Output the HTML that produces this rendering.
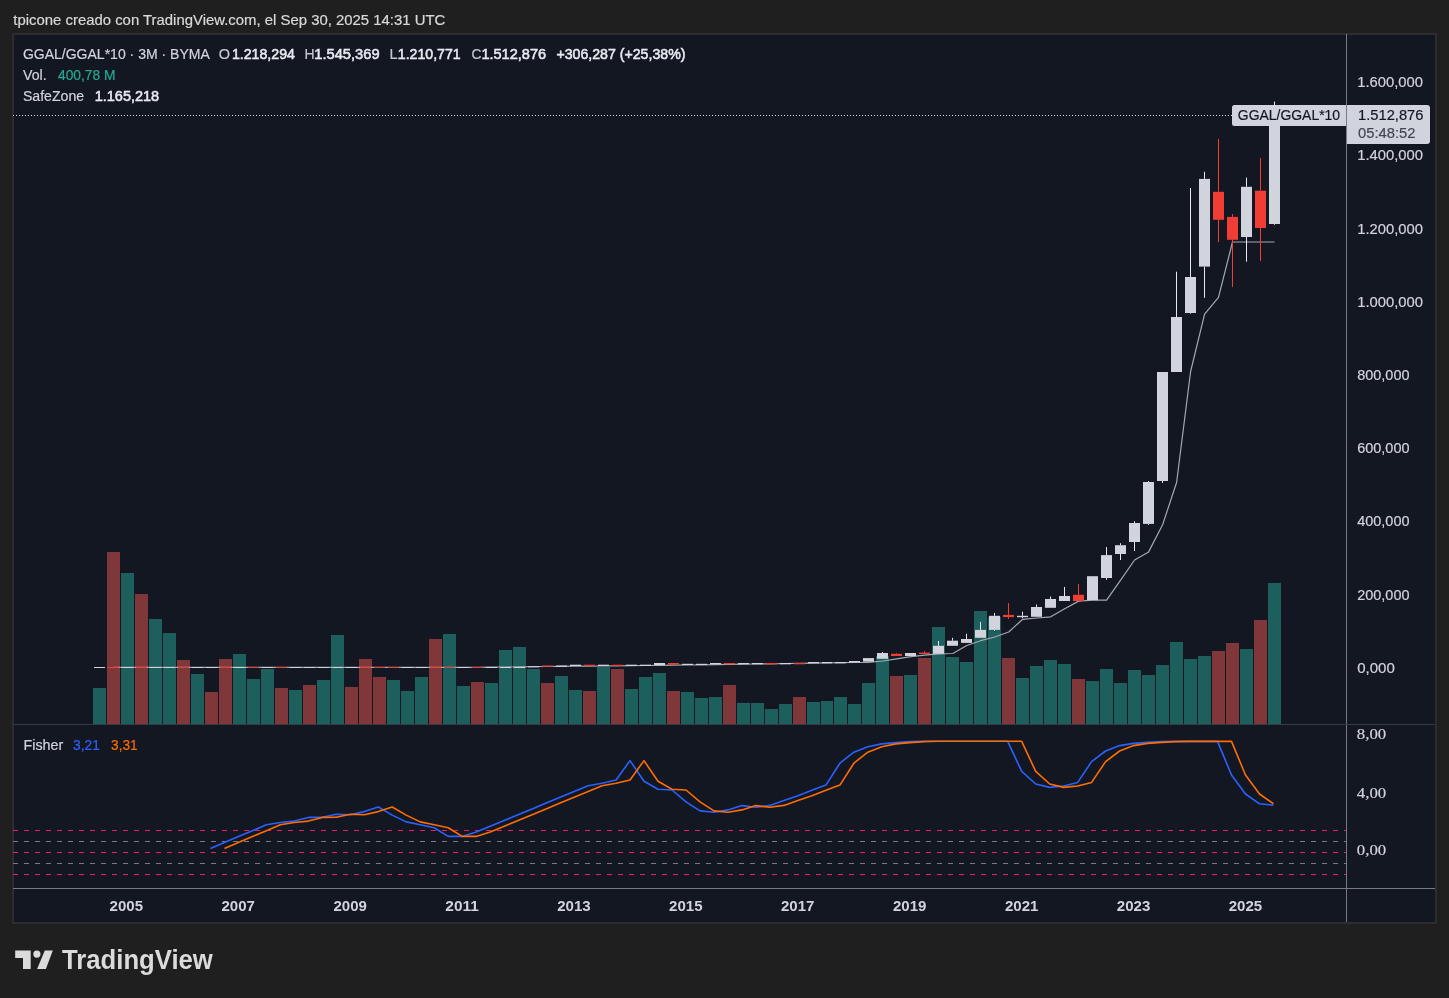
<!DOCTYPE html>
<html><head><meta charset="utf-8"><style>
html,body{margin:0;padding:0;background:#1f1f1f;width:1449px;height:998px;overflow:hidden}
svg{position:absolute;left:0;top:0;font-family:"Liberation Sans",sans-serif;will-change:transform}
</style></head><body>
<svg width="1449" height="998" viewBox="0 0 1449 998">
<rect x="0" y="0" width="1449" height="998" fill="#1f1f1f"/>
<text x="13.3" y="24.9" font-size="15" stroke="#d9d9d9" stroke-width="0.2" fill="#d9d9d9" textLength="432" lengthAdjust="spacingAndGlyphs">tpicone creado con TradingView.com, el Sep 30, 2025 14:31 UTC</text>
<rect x="12" y="33" width="1425" height="891" fill="#2d2d2f"/>
<rect x="14" y="35" width="1421" height="887" fill="#131722"/>
<clipPath id="mainclip"><rect x="13" y="34" width="1333" height="690"/></clipPath>
<clipPath id="fishclip"><rect x="13" y="725" width="1333" height="163"/></clipPath>
<g clip-path="url(#mainclip)">
<line x1="13" y1="115.5" x2="1232" y2="115.5" stroke="#d1d4dc" stroke-width="1" stroke-dasharray="1 2"/>
<rect x="93" y="688" width="13" height="36" fill="#1d5f5c"/>
<rect x="107" y="552" width="13" height="172" fill="#80373a"/>
<rect x="121" y="573" width="13" height="151" fill="#1d5f5c"/>
<rect x="135" y="594" width="13" height="130" fill="#80373a"/>
<rect x="149" y="619" width="13" height="105" fill="#1d5f5c"/>
<rect x="163" y="633" width="13" height="91" fill="#1d5f5c"/>
<rect x="177" y="660" width="13" height="64" fill="#80373a"/>
<rect x="191" y="674" width="13" height="50" fill="#1d5f5c"/>
<rect x="205" y="692" width="13" height="32" fill="#80373a"/>
<rect x="219" y="659" width="13" height="65" fill="#80373a"/>
<rect x="233" y="654" width="13" height="70" fill="#1d5f5c"/>
<rect x="247" y="679" width="13" height="45" fill="#1d5f5c"/>
<rect x="261" y="669" width="13" height="55" fill="#1d5f5c"/>
<rect x="275" y="688" width="13" height="36" fill="#80373a"/>
<rect x="289" y="690" width="13" height="34" fill="#1d5f5c"/>
<rect x="303" y="685" width="13" height="39" fill="#80373a"/>
<rect x="317" y="680" width="13" height="44" fill="#1d5f5c"/>
<rect x="331" y="635" width="13" height="89" fill="#1d5f5c"/>
<rect x="345" y="687" width="13" height="37" fill="#80373a"/>
<rect x="359" y="659" width="13" height="65" fill="#80373a"/>
<rect x="373" y="677" width="13" height="47" fill="#80373a"/>
<rect x="387" y="680" width="13" height="44" fill="#1d5f5c"/>
<rect x="401" y="691" width="13" height="33" fill="#1d5f5c"/>
<rect x="415" y="677" width="13" height="47" fill="#1d5f5c"/>
<rect x="429" y="639" width="13" height="85" fill="#80373a"/>
<rect x="443" y="634" width="13" height="90" fill="#1d5f5c"/>
<rect x="457" y="686" width="13" height="38" fill="#1d5f5c"/>
<rect x="471" y="682" width="13" height="42" fill="#80373a"/>
<rect x="485" y="683" width="13" height="41" fill="#1d5f5c"/>
<rect x="499" y="650" width="13" height="74" fill="#1d5f5c"/>
<rect x="513" y="647" width="13" height="77" fill="#1d5f5c"/>
<rect x="527" y="669" width="13" height="55" fill="#1d5f5c"/>
<rect x="541" y="683" width="13" height="41" fill="#80373a"/>
<rect x="555" y="676" width="13" height="48" fill="#1d5f5c"/>
<rect x="569" y="690" width="13" height="34" fill="#1d5f5c"/>
<rect x="583" y="691" width="13" height="33" fill="#80373a"/>
<rect x="597" y="667" width="13" height="57" fill="#1d5f5c"/>
<rect x="611" y="669" width="13" height="55" fill="#80373a"/>
<rect x="625" y="689" width="13" height="35" fill="#1d5f5c"/>
<rect x="639" y="677" width="13" height="47" fill="#1d5f5c"/>
<rect x="653" y="673" width="13" height="51" fill="#1d5f5c"/>
<rect x="667" y="691" width="13" height="33" fill="#80373a"/>
<rect x="681" y="692" width="13" height="32" fill="#1d5f5c"/>
<rect x="695" y="698" width="13" height="26" fill="#1d5f5c"/>
<rect x="709" y="697" width="13" height="27" fill="#1d5f5c"/>
<rect x="723" y="685" width="13" height="39" fill="#80373a"/>
<rect x="737" y="703" width="13" height="21" fill="#1d5f5c"/>
<rect x="751" y="703" width="13" height="21" fill="#1d5f5c"/>
<rect x="765" y="709" width="13" height="15" fill="#1d5f5c"/>
<rect x="779" y="704" width="13" height="20" fill="#1d5f5c"/>
<rect x="793" y="697" width="13" height="27" fill="#80373a"/>
<rect x="807" y="702" width="13" height="22" fill="#1d5f5c"/>
<rect x="821" y="701" width="12" height="23" fill="#1d5f5c"/>
<rect x="834" y="697" width="13" height="27" fill="#1d5f5c"/>
<rect x="848" y="704" width="13" height="20" fill="#1d5f5c"/>
<rect x="862" y="683" width="13" height="41" fill="#1d5f5c"/>
<rect x="876" y="656" width="13" height="68" fill="#1d5f5c"/>
<rect x="890" y="676" width="13" height="48" fill="#80373a"/>
<rect x="904" y="675" width="13" height="49" fill="#1d5f5c"/>
<rect x="918" y="658" width="13" height="66" fill="#80373a"/>
<rect x="932" y="627" width="13" height="97" fill="#1d5f5c"/>
<rect x="946" y="657" width="13" height="67" fill="#1d5f5c"/>
<rect x="960" y="662" width="13" height="62" fill="#1d5f5c"/>
<rect x="974" y="611" width="13" height="113" fill="#1d5f5c"/>
<rect x="988" y="617" width="13" height="107" fill="#1d5f5c"/>
<rect x="1002" y="658" width="13" height="66" fill="#80373a"/>
<rect x="1016" y="678" width="13" height="46" fill="#1d5f5c"/>
<rect x="1030" y="666" width="13" height="58" fill="#1d5f5c"/>
<rect x="1044" y="660" width="13" height="64" fill="#1d5f5c"/>
<rect x="1058" y="664" width="13" height="60" fill="#1d5f5c"/>
<rect x="1072" y="679" width="13" height="45" fill="#80373a"/>
<rect x="1086" y="681" width="13" height="43" fill="#1d5f5c"/>
<rect x="1100" y="669" width="13" height="55" fill="#1d5f5c"/>
<rect x="1114" y="683" width="13" height="41" fill="#1d5f5c"/>
<rect x="1128" y="670" width="13" height="54" fill="#1d5f5c"/>
<rect x="1142" y="675" width="13" height="49" fill="#1d5f5c"/>
<rect x="1156" y="665" width="13" height="59" fill="#1d5f5c"/>
<rect x="1170" y="642" width="13" height="82" fill="#1d5f5c"/>
<rect x="1184" y="659" width="13" height="65" fill="#1d5f5c"/>
<rect x="1198" y="656" width="13" height="68" fill="#1d5f5c"/>
<rect x="1212" y="651" width="13" height="73" fill="#80373a"/>
<rect x="1226" y="643" width="13" height="81" fill="#80373a"/>
<rect x="1240" y="649" width="13" height="75" fill="#1d5f5c"/>
<rect x="1254" y="620" width="13" height="104" fill="#80373a"/>
<rect x="1268" y="583" width="13" height="141" fill="#1d5f5c"/>
<polyline points="113.5,667.4 127.5,667.4 141.5,667.4 155.5,667.4 169.4,667.4 183.4,667.4 197.4,667.4 211.4,667.4 225.4,667.4 239.4,667.4 253.4,667.4 267.4,667.4 281.3,667.4 295.3,667.4 309.3,667.4 323.3,667.4 337.3,667.4 351.3,667.4 365.3,667.4 379.3,667.4 393.2,667.4 407.2,667.4 421.2,667.4 435.2,667.4 449.2,667.4 463.2,667.4 477.2,667.3 491.2,667.1 505.2,667.0 519.1,666.9 533.1,666.7 547.1,666.5 561.1,666.4 575.1,666.2 589.1,666.1 603.1,666.0 617.1,665.8 631.0,665.6 645.0,665.5 659.0,665.4 673.0,665.2 687.0,665.0 701.0,664.8 715.0,664.6 729.0,664.4 742.9,664.2 756.9,664.0 770.9,663.8 784.9,663.5 798.9,663.3 812.9,663.1 826.9,662.9 840.9,662.7 854.9,662.5 868.8,662.3 882.8,661.0 896.8,658.8 910.8,656.7 924.8,655.2 938.8,653.8 952.8,653.5 966.8,645.5 980.7,640.7 994.7,637.0 1008.7,632.0 1022.7,619.3 1036.7,618.0 1050.7,616.8 1064.7,608.7 1078.7,601.1 1092.6,600.2 1106.6,600.2 1120.6,580.1 1134.6,560.0 1148.6,551.9 1162.6,524.8 1176.6,482.5 1190.6,371.5 1204.6,314.2 1218.5,297.4 1232.5,242.0 1246.5,242.0 1260.5,242.0 1274.5,242.0" fill="none" stroke="#a5a8b0" stroke-width="1.2" stroke-linejoin="round"/>
<rect x="94" y="667.0" width="11" height="1.0" fill="#d1d4dc"/>
<rect x="108" y="667.0" width="11" height="1.0" fill="#f23d35"/>
<rect x="122" y="667.0" width="11" height="1.0" fill="#d1d4dc"/>
<rect x="136" y="667.0" width="11" height="1.0" fill="#f23d35"/>
<rect x="150" y="667.0" width="11" height="1.0" fill="#d1d4dc"/>
<rect x="164" y="667.0" width="11" height="1.0" fill="#d1d4dc"/>
<rect x="178" y="667.0" width="11" height="1.0" fill="#f23d35"/>
<rect x="192" y="667.0" width="11" height="1.0" fill="#d1d4dc"/>
<rect x="206" y="667.0" width="11" height="1.0" fill="#d1d4dc"/>
<rect x="220" y="667.0" width="11" height="1.0" fill="#f23d35"/>
<rect x="234" y="667.0" width="11" height="1.0" fill="#d1d4dc"/>
<rect x="248" y="667.0" width="11" height="1.0" fill="#f23d35"/>
<rect x="262" y="667.0" width="11" height="1.0" fill="#d1d4dc"/>
<rect x="276" y="667.0" width="11" height="1.0" fill="#f23d35"/>
<rect x="290" y="667.0" width="11" height="1.0" fill="#d1d4dc"/>
<rect x="304" y="667.0" width="11" height="1.0" fill="#d1d4dc"/>
<rect x="318" y="667.0" width="11" height="1.0" fill="#d1d4dc"/>
<rect x="332" y="667.0" width="11" height="1.0" fill="#d1d4dc"/>
<rect x="346" y="667.0" width="11" height="1.0" fill="#d1d4dc"/>
<rect x="360" y="667.0" width="11" height="1.0" fill="#f23d35"/>
<rect x="374" y="667.0" width="11" height="1.0" fill="#f23d35"/>
<rect x="388" y="667.0" width="11" height="1.0" fill="#f23d35"/>
<rect x="402" y="667.0" width="11" height="1.0" fill="#d1d4dc"/>
<rect x="416" y="667.0" width="11" height="1.0" fill="#d1d4dc"/>
<rect x="430" y="667.0" width="11" height="1.0" fill="#f23d35"/>
<rect x="444" y="667.0" width="11" height="1.0" fill="#f23d35"/>
<rect x="458" y="667.0" width="11" height="1.0" fill="#d1d4dc"/>
<rect x="472" y="667.0" width="11" height="1.0" fill="#f23d35"/>
<rect x="486" y="667.0" width="11" height="1.0" fill="#d1d4dc"/>
<rect x="500" y="667.0" width="11" height="1.0" fill="#d1d4dc"/>
<rect x="514" y="667.0" width="11" height="1.0" fill="#d1d4dc"/>
<rect x="528" y="666.3" width="11" height="1.0" fill="#d1d4dc"/>
<rect x="542" y="665.5" width="11" height="1.3" fill="#f23d35"/>
<rect x="556" y="665.5" width="11" height="1.3" fill="#d1d4dc"/>
<rect x="570" y="664.7" width="11" height="1.3" fill="#d1d4dc"/>
<rect x="584" y="664.7" width="11" height="1.3" fill="#f23d35"/>
<rect x="598" y="664.7" width="11" height="1.3" fill="#d1d4dc"/>
<rect x="612" y="664.7" width="11" height="1.3" fill="#f23d35"/>
<rect x="626" y="664.7" width="11" height="1.3" fill="#d1d4dc"/>
<rect x="640" y="664.7" width="11" height="1.3" fill="#d1d4dc"/>
<rect x="654" y="663.0" width="11" height="2.2" fill="#d1d4dc"/>
<rect x="668" y="663.0" width="11" height="1.6" fill="#f23d35"/>
<rect x="682" y="663.8" width="11" height="1.2" fill="#d1d4dc"/>
<rect x="696" y="663.8" width="11" height="1.2" fill="#d1d4dc"/>
<rect x="710" y="663.0" width="11" height="1.3" fill="#d1d4dc"/>
<rect x="724" y="663.0" width="11" height="1.3" fill="#f23d35"/>
<rect x="738" y="663.0" width="11" height="1.3" fill="#d1d4dc"/>
<rect x="752" y="663.0" width="11" height="1.3" fill="#d1d4dc"/>
<rect x="766" y="663.0" width="11" height="1.3" fill="#f23d35"/>
<rect x="780" y="663.0" width="11" height="1.3" fill="#d1d4dc"/>
<rect x="794" y="663.0" width="11" height="1.3" fill="#f23d35"/>
<rect x="808" y="662.0" width="11" height="1.3" fill="#d1d4dc"/>
<rect x="822" y="662.0" width="10" height="1.3" fill="#d1d4dc"/>
<rect x="835" y="662.0" width="11" height="1.3" fill="#d1d4dc"/>
<rect x="849" y="661.0" width="11" height="1.5" fill="#d1d4dc"/>
<rect x="863" y="658.1" width="11" height="3.6" fill="#d1d4dc"/>
<rect x="882" y="652.0" width="1" height="1.0" fill="#e6e8ee"/>
<rect x="877" y="653.0" width="11" height="5.8" fill="#d1d4dc"/>
<rect x="896" y="653.0" width="1" height="0.8" fill="#f23d35"/>
<rect x="891" y="653.8" width="11" height="2.2" fill="#f23d35"/>
<rect x="905" y="653.0" width="11" height="3.0" fill="#d1d4dc"/>
<rect x="924" y="650.9" width="1" height="1.7" fill="#f23d35"/>
<rect x="919" y="652.6" width="11" height="1.4" fill="#f23d35"/>
<rect x="938" y="641.0" width="1" height="4.8" fill="#e6e8ee"/>
<rect x="933" y="645.8" width="11" height="8.0" fill="#d1d4dc"/>
<rect x="952" y="637.8" width="1" height="2.9" fill="#e6e8ee"/>
<rect x="947" y="640.7" width="11" height="5.1" fill="#d1d4dc"/>
<rect x="966" y="633.8" width="1" height="5.2" fill="#e6e8ee"/>
<rect x="961" y="639.0" width="11" height="3.9" fill="#d1d4dc"/>
<rect x="980" y="621.9" width="1" height="8.0" fill="#e6e8ee"/>
<rect x="975" y="629.9" width="11" height="7.9" fill="#d1d4dc"/>
<rect x="994" y="612.9" width="1" height="2.9" fill="#e6e8ee"/>
<rect x="994" y="629.9" width="1" height="1.1" fill="#e6e8ee"/>
<rect x="989" y="615.8" width="11" height="14.1" fill="#d1d4dc"/>
<rect x="1008" y="603.0" width="1" height="11.9" fill="#f23d35"/>
<rect x="1008" y="617.1" width="1" height="1.9" fill="#f23d35"/>
<rect x="1003" y="614.9" width="11" height="2.2" fill="#f23d35"/>
<rect x="1022" y="611.7" width="1" height="4.1" fill="#e6e8ee"/>
<rect x="1022" y="617.2" width="1" height="1.1" fill="#e6e8ee"/>
<rect x="1017" y="615.8" width="11" height="1.4" fill="#d1d4dc"/>
<rect x="1036" y="604.5" width="1" height="2.5" fill="#e6e8ee"/>
<rect x="1031" y="607.0" width="11" height="9.8" fill="#d1d4dc"/>
<rect x="1050" y="596.5" width="1" height="2.5" fill="#e6e8ee"/>
<rect x="1045" y="599.0" width="11" height="8.8" fill="#d1d4dc"/>
<rect x="1064" y="587.0" width="1" height="9.0" fill="#e6e8ee"/>
<rect x="1059" y="596.0" width="11" height="5.0" fill="#d1d4dc"/>
<rect x="1078" y="584.0" width="1" height="10.8" fill="#f23d35"/>
<rect x="1073" y="594.8" width="11" height="6.2" fill="#f23d35"/>
<rect x="1087" y="576.2" width="11" height="24.0" fill="#d1d4dc"/>
<rect x="1106" y="547.0" width="1" height="8.1" fill="#e6e8ee"/>
<rect x="1106" y="578.0" width="1" height="1.8" fill="#e6e8ee"/>
<rect x="1101" y="555.1" width="11" height="22.9" fill="#d1d4dc"/>
<rect x="1120" y="543.2" width="1" height="2.0" fill="#e6e8ee"/>
<rect x="1120" y="554.0" width="1" height="6.0" fill="#e6e8ee"/>
<rect x="1115" y="545.2" width="11" height="8.8" fill="#d1d4dc"/>
<rect x="1134" y="521.2" width="1" height="1.8" fill="#e6e8ee"/>
<rect x="1134" y="542.0" width="1" height="9.0" fill="#e6e8ee"/>
<rect x="1129" y="523.0" width="11" height="19.0" fill="#d1d4dc"/>
<rect x="1148" y="481.1" width="1" height="0.9" fill="#e6e8ee"/>
<rect x="1148" y="523.9" width="1" height="0.9" fill="#e6e8ee"/>
<rect x="1143" y="482.0" width="11" height="41.9" fill="#d1d4dc"/>
<rect x="1162" y="481.0" width="1" height="2.0" fill="#e6e8ee"/>
<rect x="1157" y="372.0" width="11" height="109.0" fill="#d1d4dc"/>
<rect x="1176" y="271.7" width="1" height="45.3" fill="#e6e8ee"/>
<rect x="1171" y="317.0" width="11" height="55.0" fill="#d1d4dc"/>
<rect x="1190" y="188.0" width="1" height="89.0" fill="#e6e8ee"/>
<rect x="1190" y="313.0" width="1" height="0.7" fill="#e6e8ee"/>
<rect x="1185" y="277.0" width="11" height="36.0" fill="#d1d4dc"/>
<rect x="1204" y="171.8" width="1" height="7.1" fill="#e6e8ee"/>
<rect x="1204" y="266.6" width="1" height="31.2" fill="#e6e8ee"/>
<rect x="1199" y="178.9" width="11" height="87.7" fill="#d1d4dc"/>
<rect x="1218" y="138.9" width="1" height="52.9" fill="#f23d35"/>
<rect x="1218" y="219.8" width="1" height="22.2" fill="#f23d35"/>
<rect x="1213" y="191.8" width="11" height="28.0" fill="#f23d35"/>
<rect x="1232" y="214.0" width="1" height="2.9" fill="#f23d35"/>
<rect x="1232" y="239.8" width="1" height="47.2" fill="#f23d35"/>
<rect x="1227" y="216.9" width="11" height="22.9" fill="#f23d35"/>
<rect x="1246" y="177.6" width="1" height="9.2" fill="#e6e8ee"/>
<rect x="1246" y="237.0" width="1" height="24.7" fill="#e6e8ee"/>
<rect x="1241" y="186.8" width="11" height="50.2" fill="#d1d4dc"/>
<rect x="1260" y="158.0" width="1" height="32.7" fill="#f23d35"/>
<rect x="1260" y="228.0" width="1" height="33.0" fill="#f23d35"/>
<rect x="1255" y="190.7" width="11" height="37.3" fill="#f23d35"/>
<rect x="1274" y="101.6" width="1" height="11.9" fill="#e6e8ee"/>
<rect x="1274" y="224.0" width="1" height="0.8" fill="#e6e8ee"/>
<rect x="1269" y="113.5" width="11" height="110.5" fill="#d1d4dc"/>
</g>
<g clip-path="url(#fishclip)">
<line x1="13" y1="830.5" x2="1346" y2="830.5" stroke="#e91e63" stroke-width="1" stroke-dasharray="5 6"/>
<line x1="13" y1="841.5" x2="1346" y2="841.5" stroke="#787b86" stroke-width="1" stroke-dasharray="5 6"/>
<line x1="13" y1="852.5" x2="1346" y2="852.5" stroke="#e91e63" stroke-width="1" stroke-dasharray="5 6"/>
<line x1="13" y1="863.5" x2="1346" y2="863.5" stroke="#787b86" stroke-width="1" stroke-dasharray="5 6"/>
<line x1="13" y1="874.5" x2="1346" y2="874.5" stroke="#e91e63" stroke-width="1" stroke-dasharray="5 6"/>

<polyline points="210.4,848.4 224.4,842.5 238.4,836.6 252.4,830.7 266.4,824.8 280.3,822.5 294.3,821.1 308.3,817.4 322.3,817.2 336.3,814.3 350.3,814.7 364.3,811.6 378.3,807.0 392.2,815.1 406.2,821.9 420.2,824.8 434.2,827.7 448.2,836.4 462.2,836.4 476.2,832.1 490.2,826.3 504.2,820.5 518.1,814.7 532.1,808.9 546.1,803.1 560.1,797.3 574.1,791.5 588.1,785.7 602.1,783.2 616.1,780.0 630.0,760.6 644.0,781.3 658.0,789.2 672.0,790.0 686.0,801.8 700.0,810.9 714.0,812.2 728.0,809.9 741.9,805.6 755.9,807.3 769.9,805.4 783.9,800.5 797.9,795.7 811.9,790.3 825.9,785.1 839.9,763.2 853.9,752.2 867.8,746.8 881.8,743.9 895.8,742.6 909.8,741.6 923.8,741.3 937.8,741.3 951.8,741.3 965.8,741.3 979.7,741.3 993.7,741.3 1007.7,741.3 1021.7,771.4 1035.7,784.0 1049.7,787.4 1063.7,786.0 1077.7,782.4 1091.6,761.6 1105.6,751.0 1119.6,745.6 1133.6,743.4 1147.6,742.4 1161.6,741.6 1175.6,741.4 1189.6,741.4 1203.6,741.4 1217.5,741.4 1231.5,775.0 1245.5,794.0 1259.5,803.8 1273.5,805.2" fill="none" stroke="#2962ff" stroke-width="1.6" stroke-linejoin="round"/>
<polyline points="224.4,848.4 238.4,842.5 252.4,836.6 266.4,830.7 280.3,824.8 294.3,822.5 308.3,821.1 322.3,817.4 336.3,817.2 350.3,814.3 364.3,814.7 378.3,811.6 392.2,807.0 406.2,815.1 420.2,821.9 434.2,824.8 448.2,827.7 462.2,836.4 476.2,836.4 490.2,832.1 504.2,826.3 518.1,820.5 532.1,814.7 546.1,808.9 560.1,803.1 574.1,797.3 588.1,791.5 602.1,785.7 616.1,783.2 630.0,780.0 644.0,760.6 658.0,781.3 672.0,789.2 686.0,790.0 700.0,801.8 714.0,810.9 728.0,812.2 741.9,809.9 755.9,805.6 769.9,807.3 783.9,805.4 797.9,800.5 811.9,795.7 825.9,790.3 839.9,785.1 853.9,763.2 867.8,752.2 881.8,746.8 895.8,743.9 909.8,742.6 923.8,741.6 937.8,741.3 951.8,741.3 965.8,741.3 979.7,741.3 993.7,741.3 1007.7,741.3 1021.7,741.3 1035.7,771.4 1049.7,784.0 1063.7,787.4 1077.7,786.0 1091.6,782.4 1105.6,761.6 1119.6,751.0 1133.6,745.6 1147.6,743.4 1161.6,742.4 1175.6,741.6 1189.6,741.4 1203.6,741.4 1217.5,741.4 1231.5,741.4 1245.5,775.0 1259.5,794.0 1273.5,803.8" fill="none" stroke="#ff6d00" stroke-width="1.6" stroke-linejoin="round"/>
</g>
<rect x="1346" y="34" width="1" height="888" fill="#787b86"/>
<rect x="13" y="724" width="1422" height="1" fill="#363a45"/>
<rect x="13" y="888" width="1422" height="1" fill="#787b86"/>
<text x="22.9" y="58.9" font-size="15" stroke="#d1d4dc" stroke-width="0.2" fill="#d1d4dc" textLength="186.9" lengthAdjust="spacingAndGlyphs">GGAL/GGAL*10 · 3M · BYMA</text>
<text x="218.7" y="58.9" font-size="14.5" stroke="#c3c6ce" stroke-width="0.2" fill="#c3c6ce">O</text>
<text x="231.9" y="58.9" font-size="14.6" stroke="#e8eaf0" stroke-width="0.55" fill="#e8eaf0" textLength="63" lengthAdjust="spacingAndGlyphs">1.218,294</text>
<text x="304.4" y="58.9" font-size="14" stroke="#c3c6ce" stroke-width="0.2" fill="#c3c6ce">H</text>
<text x="314.3" y="58.9" font-size="14.6" stroke="#e8eaf0" stroke-width="0.55" fill="#e8eaf0" textLength="65.3" lengthAdjust="spacingAndGlyphs">1.545,369</text>
<text x="389.5" y="58.9" font-size="14.5" stroke="#c3c6ce" stroke-width="0.2" fill="#c3c6ce">L</text>
<text x="397.8" y="58.9" font-size="14.6" stroke="#e8eaf0" stroke-width="0.55" fill="#e8eaf0" textLength="62.9" lengthAdjust="spacingAndGlyphs">1.210,771</text>
<text x="471.4" y="58.9" font-size="13.8" stroke="#c3c6ce" stroke-width="0.2" fill="#c3c6ce">C</text>
<text x="481.4" y="58.9" font-size="14.6" stroke="#e8eaf0" stroke-width="0.55" fill="#e8eaf0" textLength="64.7" lengthAdjust="spacingAndGlyphs">1.512,876</text>
<text x="556.4" y="58.9" font-size="14.6" stroke="#e8eaf0" stroke-width="0.55" fill="#e8eaf0" textLength="129.1" lengthAdjust="spacingAndGlyphs">+306,287 (+25,38%)</text>
<text x="23" y="79.8" font-size="15" stroke="#d1d4dc" stroke-width="0.2" fill="#d1d4dc" textLength="23.6" lengthAdjust="spacingAndGlyphs">Vol.</text>
<text x="58" y="79.8" font-size="14.6" stroke="#22ab94" stroke-width="0.2" fill="#22ab94" textLength="57.5" lengthAdjust="spacingAndGlyphs">400,78 M</text>
<text x="22.9" y="100.7" font-size="15" stroke="#d1d4dc" stroke-width="0.2" fill="#d1d4dc" textLength="61.2" lengthAdjust="spacingAndGlyphs">SafeZone</text>
<text x="94.7" y="100.7" font-size="14.6" stroke="#e8eaf0" stroke-width="0.55" fill="#e8eaf0" textLength="64.5" lengthAdjust="spacingAndGlyphs">1.165,218</text>
<text x="23.5" y="749.8" font-size="15.3" stroke="#d1d4dc" stroke-width="0.2" fill="#d1d4dc" textLength="39.8" lengthAdjust="spacingAndGlyphs">Fisher</text>
<text x="73" y="749.8" font-size="15.2" stroke="#2962ff" stroke-width="0.2" fill="#2962ff" textLength="26.8" lengthAdjust="spacingAndGlyphs">3,21</text>
<text x="111.1" y="749.8" font-size="15.2" stroke="#ff6d00" stroke-width="0.2" fill="#ff6d00" textLength="26.6" lengthAdjust="spacingAndGlyphs">3,31</text>
<text x="1357.2" y="87.0" font-size="15" stroke="#d1d4dc" stroke-width="0.2" fill="#d1d4dc" textLength="65.8" lengthAdjust="spacingAndGlyphs">1.600,000</text>
<text x="1357.2" y="160.3" font-size="15" stroke="#d1d4dc" stroke-width="0.2" fill="#d1d4dc" textLength="65.8" lengthAdjust="spacingAndGlyphs">1.400,000</text>
<text x="1357.2" y="233.5" font-size="15" stroke="#d1d4dc" stroke-width="0.2" fill="#d1d4dc" textLength="65.8" lengthAdjust="spacingAndGlyphs">1.200,000</text>
<text x="1357.2" y="306.7" font-size="15" stroke="#d1d4dc" stroke-width="0.2" fill="#d1d4dc" textLength="65.8" lengthAdjust="spacingAndGlyphs">1.000,000</text>
<text x="1357.2" y="380.0" font-size="15" stroke="#d1d4dc" stroke-width="0.2" fill="#d1d4dc" textLength="52.3" lengthAdjust="spacingAndGlyphs">800,000</text>
<text x="1357.2" y="453.2" font-size="15" stroke="#d1d4dc" stroke-width="0.2" fill="#d1d4dc" textLength="52.3" lengthAdjust="spacingAndGlyphs">600,000</text>
<text x="1357.2" y="526.4" font-size="15" stroke="#d1d4dc" stroke-width="0.2" fill="#d1d4dc" textLength="52.3" lengthAdjust="spacingAndGlyphs">400,000</text>
<text x="1357.2" y="599.7" font-size="15" stroke="#d1d4dc" stroke-width="0.2" fill="#d1d4dc" textLength="52.3" lengthAdjust="spacingAndGlyphs">200,000</text>
<text x="1357.2" y="672.9" font-size="15" stroke="#d1d4dc" stroke-width="0.2" fill="#d1d4dc" textLength="37.6" lengthAdjust="spacingAndGlyphs">0,000</text>
<text x="1356.8" y="738.9" font-size="15.5" stroke="#d1d4dc" stroke-width="0.2" fill="#d1d4dc" textLength="29.4" lengthAdjust="spacingAndGlyphs" font-family="Liberation Serif">8,00</text>
<text x="1356.8" y="797.5" font-size="15.5" stroke="#d1d4dc" stroke-width="0.2" fill="#d1d4dc" textLength="29.4" lengthAdjust="spacingAndGlyphs" font-family="Liberation Serif">4,00</text>
<text x="1356.8" y="855.3" font-size="15.5" stroke="#d1d4dc" stroke-width="0.2" fill="#d1d4dc" textLength="29.4" lengthAdjust="spacingAndGlyphs" font-family="Liberation Serif">0,00</text>
<path d="M1232,107.5 a2.5,2.5 0 0 1 2.5,-2.5 H1346 V126 H1234.5 a2.5,2.5 0 0 1 -2.5,-2.5 Z" fill="#d1d4dc"/>
<text x="1237.8" y="120.3" font-size="15" stroke="#131722" stroke-width="0.2" fill="#131722" textLength="102.3" lengthAdjust="spacingAndGlyphs">GGAL/GGAL*10</text>
<path d="M1347,105 H1427 a3,3 0 0 1 3,3 V141 a3,3 0 0 1 -3,3 H1347 Z" fill="#d1d4dc"/>
<text x="1358" y="119.6" font-size="15" stroke="#131722" stroke-width="0.2" fill="#131722" textLength="65.5" lengthAdjust="spacingAndGlyphs">1.512,876</text>
<text x="1358" y="137.6" font-size="15" stroke="#434651" stroke-width="0.2" fill="#434651" textLength="57.5" lengthAdjust="spacingAndGlyphs">05:48:52</text>
<text x="109.6" y="910.6" font-size="15.3" font-weight="700" fill="#d1d4dc" textLength="33.5" lengthAdjust="spacingAndGlyphs">2005</text>
<text x="221.5" y="910.6" font-size="15.3" font-weight="700" fill="#d1d4dc" textLength="33.5" lengthAdjust="spacingAndGlyphs">2007</text>
<text x="333.4" y="910.6" font-size="15.3" font-weight="700" fill="#d1d4dc" textLength="33.5" lengthAdjust="spacingAndGlyphs">2009</text>
<text x="445.3" y="910.6" font-size="15.3" font-weight="700" fill="#d1d4dc" textLength="33.5" lengthAdjust="spacingAndGlyphs">2011</text>
<text x="557.2" y="910.6" font-size="15.3" font-weight="700" fill="#d1d4dc" textLength="33.5" lengthAdjust="spacingAndGlyphs">2013</text>
<text x="669.1" y="910.6" font-size="15.3" font-weight="700" fill="#d1d4dc" textLength="33.5" lengthAdjust="spacingAndGlyphs">2015</text>
<text x="781.0" y="910.6" font-size="15.3" font-weight="700" fill="#d1d4dc" textLength="33.5" lengthAdjust="spacingAndGlyphs">2017</text>
<text x="893.0" y="910.6" font-size="15.3" font-weight="700" fill="#d1d4dc" textLength="33.5" lengthAdjust="spacingAndGlyphs">2019</text>
<text x="1004.9" y="910.6" font-size="15.3" font-weight="700" fill="#d1d4dc" textLength="33.5" lengthAdjust="spacingAndGlyphs">2021</text>
<text x="1116.8" y="910.6" font-size="15.3" font-weight="700" fill="#d1d4dc" textLength="33.5" lengthAdjust="spacingAndGlyphs">2023</text>
<text x="1228.7" y="910.6" font-size="15.3" font-weight="700" fill="#d1d4dc" textLength="33.5" lengthAdjust="spacingAndGlyphs">2025</text>
<g fill="#dbdbdb">
<path d="M15.2,950.5 H30.7 V969 H23 V958 H15.2 Z"/>
<circle cx="36.9" cy="954.1" r="3.6"/>
<path d="M44.8,950.5 H52.8 L45.9,969 H37.1 Z"/>
<text x="62.1" y="969" font-size="26.8" font-weight="700" textLength="150.7" lengthAdjust="spacingAndGlyphs">TradingView</text>
</g>
</svg>
</body></html>
